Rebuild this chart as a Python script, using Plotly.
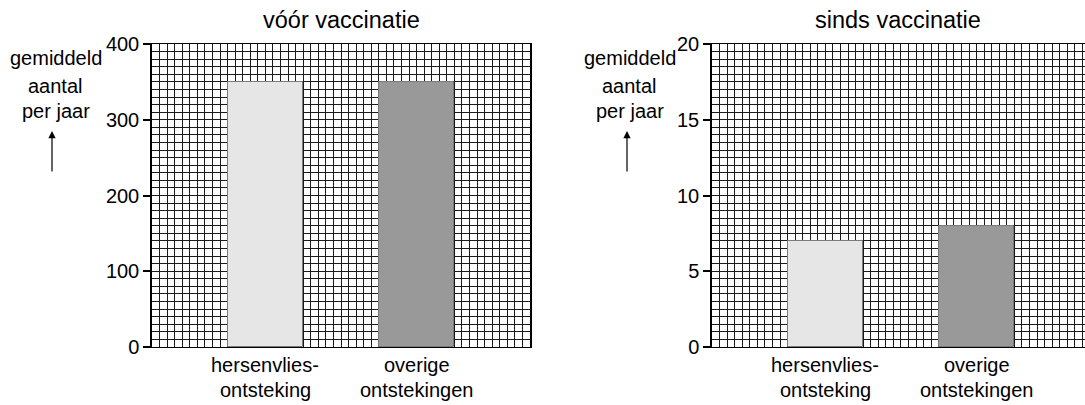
import plotly.graph_objects as go

# ---- data ----
categories = [["hersenvlies-", "ontsteking"], ["overige", "ontstekingen"]]
titles = ["vóór vaccinatie", "sinds vaccinatie"]
values_before = [350, 350]
values_since = [7, 8]
bar_colors = ["#e6e6e6", "#999999"]
yticks_before = [0, 100, 200, 300, 400]
yticks_since = [0, 5, 10, 15, 20]
ylabel_lines = ["gemiddeld", "aantal", "per jaar"]

W, H = 1085, 405
FONT = "Liberation Sans, Arial, sans-serif"
FS = 20
GRID = "#1a1a1a"

def px_x(x):
    return x / W

def px_y(y):
    return (H - y) / H

bar_pos = [15, 35]

fig = go.Figure()
fig.add_trace(go.Bar(x=bar_pos, y=values_before, width=10,
                     marker=dict(color=bar_colors, line=dict(color="#7a7a7a", width=1)),
                     xaxis="x", yaxis="y", showlegend=False, hoverinfo="skip"))
fig.add_trace(go.Bar(x=bar_pos, y=values_since, width=10,
                     marker=dict(color=bar_colors, line=dict(color="#7a7a7a", width=1)),
                     xaxis="x2", yaxis="y2", showlegend=False, hoverinfo="skip"))

ydom = [px_y(347), px_y(44)]
xdom1 = [px_x(152), px_x(530)]
xdom2 = [px_x(712), 1.0]

def xaxis(dom, rng, anchor):
    return dict(domain=dom, range=rng, anchor=anchor, showticklabels=False, ticks="",
                tickmode="array", tickvals=[], showgrid=False, zeroline=False,
                showline=True, linecolor="black", linewidth=1, mirror=True,
                minor=dict(tickmode="linear", tick0=0, dtick=1, showgrid=True,
                           gridcolor=GRID, gridwidth=1, ticks=""),
                fixedrange=True, automargin=False)

def yaxis(dom, rng, ticks, mdt, anchor):
    return dict(domain=dom, range=rng, anchor=anchor, tickmode="array", tickvals=ticks,
                ticks="outside", ticklen=7, tickcolor="black", tickwidth=1.5,
                tickfont=dict(family=FONT, size=FS, color="black"),
                showgrid=True, gridcolor=GRID, gridwidth=1, zeroline=False,
                showline=True, linecolor="black", linewidth=1.5, mirror=True,
                minor=dict(tickmode="linear", tick0=0, dtick=mdt, showgrid=True,
                           gridcolor=GRID, gridwidth=1, ticks=""),
                fixedrange=True, automargin=False)

annotations = []
# titles
for t, cx in zip(titles, [341, 898]):
    annotations.append(dict(text=t, x=px_x(cx), y=px_y(20), xref="paper", yref="paper",
                            xanchor="center", yanchor="middle", showarrow=False,
                            font=dict(family=FONT, size=23.5, color="black")))
# y labels and arrows
for cx, ax_x in [(55.5, 52), (629.5, 627)]:
    for i, (line, yc) in enumerate(zip(ylabel_lines, [58, 86, 111])):
        annotations.append(dict(text=line, x=px_x(cx), y=px_y(yc), xref="paper", yref="paper",
                                xanchor="center", yanchor="middle", showarrow=False,
                                font=dict(family=FONT, size=FS, color="black")))
    annotations.append(dict(text="", x=px_x(ax_x), y=px_y(131), xref="paper", yref="paper",
                            ax=0, ay=42, axref="pixel", ayref="pixel",
                            showarrow=True, arrowhead=2, arrowsize=1.2, arrowwidth=1.2,
                            arrowcolor="black"))
# category labels
for xa in ["x", "x2"]:
    for pos, cat in zip(bar_pos, categories):
        for i, (line, yc) in enumerate(zip(cat, [365, 390])):
            annotations.append(dict(text=line, x=pos, xref=xa, y=px_y(yc), yref="paper",
                                    xanchor="center", yanchor="middle", showarrow=False,
                                    font=dict(family=FONT, size=FS, color="black")))

fig.update_layout(
    width=W, height=H, margin=dict(l=0, r=0, t=0, b=0, pad=0, autoexpand=False),
    paper_bgcolor="white", plot_bgcolor="white",
    xaxis=xaxis(xdom1, [0, 50], "y"),
    yaxis=yaxis(ydom, [0, 400], yticks_before, 10, "x"),
    xaxis2=xaxis(xdom2, [0, 49.34], "y2"),
    yaxis2=yaxis(ydom, [0, 20], yticks_since, 0.5, "x2"),
    annotations=annotations, bargap=0,
)

post = (
    "document.documentElement.style.margin='0';"
    "document.body.style.margin='0';"
    "document.body.style.overflow='hidden';"
)
fig.write_html("out.html", config={"displayModeBar": False}, post_script=post)
